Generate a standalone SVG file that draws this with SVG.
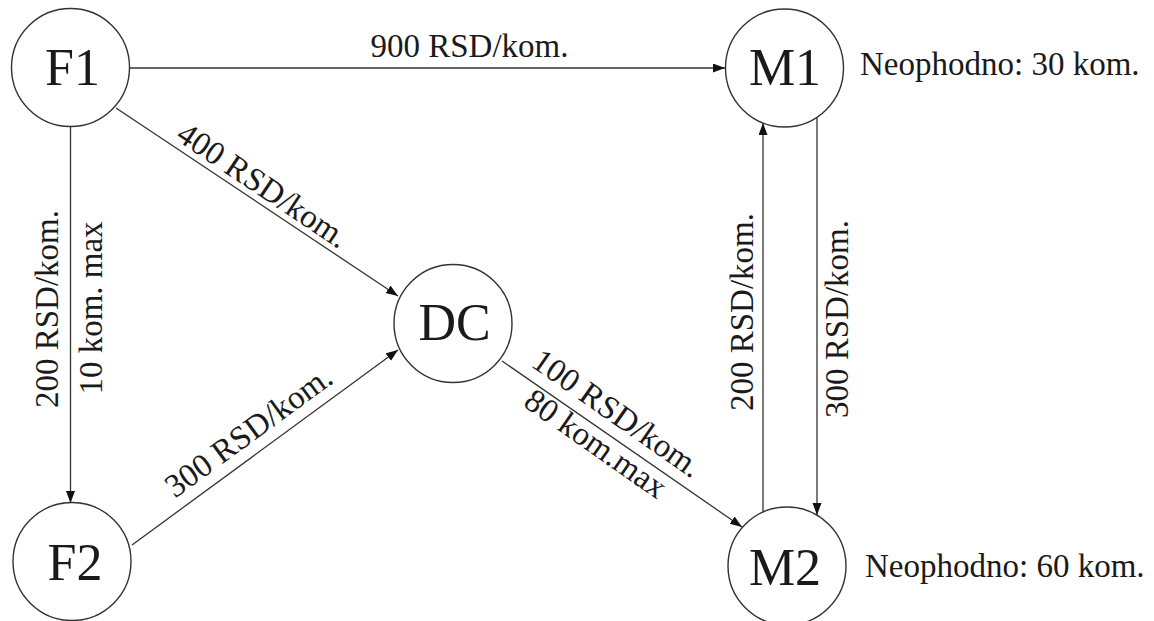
<svg xmlns="http://www.w3.org/2000/svg" width="1154" height="621" viewBox="0 0 1154 621">
<defs>
<style>
.node{fill:#fff;stroke:#333;stroke-width:1.4}
.nl{font-family:"Liberation Serif","Times New Roman",serif;font-size:52px;fill:#1a1a1a;text-anchor:middle}
.el{font-family:"Liberation Serif","Times New Roman",serif;font-size:33px;fill:#1a1a1a}
.c{text-anchor:middle}
.edge{stroke:#333;stroke-width:1.3;fill:none;marker-end:url(#arr)}
</style>
<marker id="arr" markerUnits="userSpaceOnUse" markerWidth="13" markerHeight="10" refX="12" refY="4.5" orient="auto">
<path d="M0,0 L12,4.5 L0,9 z" fill="#111"/>
</marker>
</defs>
<rect width="1154" height="621" fill="#fff"/>
<g id="connectors">
<line class="edge" x1="130" y1="68" x2="725" y2="68"/>
<line class="edge" x1="116" y1="108" x2="398" y2="296"/>
<line class="edge" x1="70.5" y1="126.5" x2="70.5" y2="503"/>
<line class="edge" x1="132" y1="545" x2="398" y2="350"/>
<line class="edge" x1="502" y1="361" x2="742" y2="527"/>
<line class="edge" x1="763" y1="512" x2="763" y2="123"/>
<line class="edge" x1="817" y1="117" x2="817" y2="515"/>
<text class="el" x="370.5" y="57">900 RSD/kom.</text>
<text class="el c" transform="translate(253,200) rotate(33.8)" y="-7">400 RSD/kom.</text>
<text class="el c" transform="translate(58,309) rotate(-90)">200 RSD/kom.</text>
<text class="el c" transform="translate(102,308) rotate(-90)">10 kom. max</text>
<text class="el c" transform="translate(262,450) rotate(-36.2)" y="-12">300 RSD/kom.</text>
<text class="el c" transform="translate(604,432) rotate(35)" y="-12">100 RSD/kom.</text>
<text class="el c" transform="translate(604,432) rotate(35)" y="25">80 kom.max</text>
<text class="el c" transform="translate(753,312) rotate(-90)">200 RSD/kom.</text>
<text class="el c" transform="translate(848,319) rotate(-90)">300 RSD/kom.</text>
</g>
<g id="F1"><circle class="node" cx="70.5" cy="67.5" r="59"/><text class="nl" x="72.5" y="84.5">F1</text></g>
<g id="M1"><circle class="node" cx="784.5" cy="68" r="59"/><text class="nl" x="785" y="84.5">M1</text><text class="el" x="860" y="75">Neophodno: 30 kom.</text></g>
<g id="DC"><circle class="node" cx="453" cy="323.5" r="59"/><text class="nl" x="454.5" y="339.5">DC</text></g>
<g id="F2"><circle class="node" cx="72" cy="561.5" r="59"/><text class="nl" x="75" y="579.5">F2</text></g>
<g id="M2"><circle class="node" cx="787" cy="566" r="59"/><text class="nl" x="785" y="585">M2</text><text class="el" x="865" y="577">Neophodno: 60 kom.</text></g>
</svg>
